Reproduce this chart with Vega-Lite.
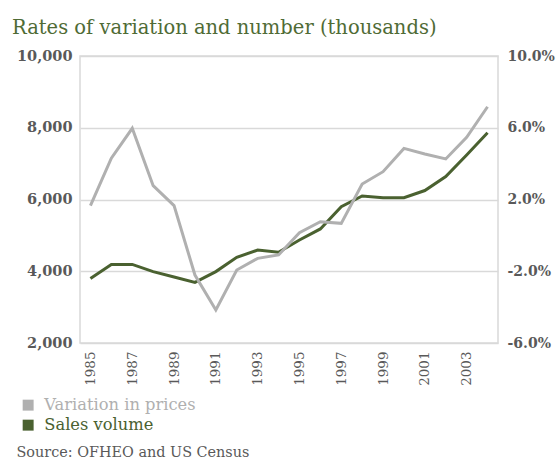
{
  "$schema": "https://vega.github.io/schema/vega-lite/v6.json",
  "width": 418,
  "height": 287,
  "autosize": "none",
  "padding": {"left": 80, "top": 56, "right": 60, "bottom": 115},
  "background": "white",
  "config": {
    "view": {"stroke": "#d9d9d9", "strokeWidth": 1.5},
    "font": "DejaVu Serif"
  },
  "title": {
    "text": "Rates of variation and number (thousands)",
    "anchor": "start",
    "frame": "group",
    "dx": -68,
    "offset": 10,
    "font": "DejaVu Serif",
    "fontSize": 19.5,
    "fontWeight": "normal",
    "color": "#4f6b35"
  },
  "data": {
    "values": [
      {"year": "1985", "series": "Sales volume", "value": 3800},
      {"year": "1986", "series": "Sales volume", "value": 4190},
      {"year": "1987", "series": "Sales volume", "value": 4190},
      {"year": "1988", "series": "Sales volume", "value": 3990},
      {"year": "1989", "series": "Sales volume", "value": 3840},
      {"year": "1990", "series": "Sales volume", "value": 3690},
      {"year": "1991", "series": "Sales volume", "value": 3990},
      {"year": "1992", "series": "Sales volume", "value": 4390},
      {"year": "1993", "series": "Sales volume", "value": 4590},
      {"year": "1994", "series": "Sales volume", "value": 4530},
      {"year": "1995", "series": "Sales volume", "value": 4870},
      {"year": "1996", "series": "Sales volume", "value": 5180},
      {"year": "1997", "series": "Sales volume", "value": 5800},
      {"year": "1998", "series": "Sales volume", "value": 6100},
      {"year": "1999", "series": "Sales volume", "value": 6050},
      {"year": "2000", "series": "Sales volume", "value": 6050},
      {"year": "2001", "series": "Sales volume", "value": 6250},
      {"year": "2002", "series": "Sales volume", "value": 6640},
      {"year": "2003", "series": "Sales volume", "value": 7240},
      {"year": "2004", "series": "Sales volume", "value": 7860},
      {"year": "1985", "series": "Variation in prices", "value": 1.66},
      {"year": "1986", "series": "Variation in prices", "value": 4.3},
      {"year": "1987", "series": "Variation in prices", "value": 5.97},
      {"year": "1988", "series": "Variation in prices", "value": 2.77},
      {"year": "1989", "series": "Variation in prices", "value": 1.66},
      {"year": "1990", "series": "Variation in prices", "value": -2.21},
      {"year": "1991", "series": "Variation in prices", "value": -4.16},
      {"year": "1992", "series": "Variation in prices", "value": -1.93},
      {"year": "1993", "series": "Variation in prices", "value": -1.28},
      {"year": "1994", "series": "Variation in prices", "value": -1.09},
      {"year": "1995", "series": "Variation in prices", "value": 0.15},
      {"year": "1996", "series": "Variation in prices", "value": 0.76},
      {"year": "1997", "series": "Variation in prices", "value": 0.67},
      {"year": "1998", "series": "Variation in prices", "value": 2.86},
      {"year": "1999", "series": "Variation in prices", "value": 3.55},
      {"year": "2000", "series": "Variation in prices", "value": 4.85},
      {"year": "2001", "series": "Variation in prices", "value": 4.54},
      {"year": "2002", "series": "Variation in prices", "value": 4.26},
      {"year": "2003", "series": "Variation in prices", "value": 5.47},
      {"year": "2004", "series": "Variation in prices", "value": 7.17}
    ]
  },
  "encoding": {
    "x": {
      "field": "year",
      "type": "ordinal",
      "scale": {"type": "point", "padding": 0.5},
      "axis": {
        "values": ["1985", "1987", "1989", "1991", "1993", "1995", "1997", "1999", "2001", "2003"],
        "labelAngle": -90,
        "labelFont": "DejaVu Serif",
        "labelFontSize": 13.5,
        "labelColor": "#595959",
        "labelPadding": 8,
        "ticks": false,
        "domain": false,
        "grid": false,
        "title": "Source: OFHEO and US Census",
        "titleAnchor": "start",
        "titleAlign": "left",
        "titleX": -64,
        "titleY": 113,
        "titleBaseline": "alphabetic",
        "titleFont": "DejaVu Serif",
        "titleFontSize": 14.4,
        "titleFontWeight": "normal",
        "titleColor": "#595959"
      }
    },
    "color": {
      "field": "series",
      "type": "nominal",
      "scale": {"domain": ["Variation in prices", "Sales volume"], "range": ["#b0b0b0", "#4a6130"]},
      "legend": {
        "orient": "none",
        "legendX": -60,
        "legendY": 341,
        "title": null,
        "symbolType": "square",
        "symbolSize": 120,
        "symbolStrokeWidth": 0,
        "symbolOpacity": 1,
        "labelFont": "DejaVu Serif",
        "labelFontSize": 16.3,
        "rowPadding": 3,
        "labelOffset": 8,
        "encode": {
          "labels": {"update": {"fill": {"signal": "datum.value === 'Sales volume' ? '#4a6130' : '#b0b0b0'"}}},
          "symbols": {"update": {"fill": {"signal": "datum.value === 'Sales volume' ? '#4a6130' : '#b0b0b0'"}}}
        }
      }
    }
  },
  "layer": [
    {
      "transform": [{"filter": "datum.series === 'Sales volume'"}],
      "mark": {"type": "line", "strokeWidth": 3},
      "encoding": {
        "y": {
          "field": "value",
          "type": "quantitative",
          "scale": {"domain": [2000, 10000], "nice": false, "zero": false},
          "axis": {
            "orient": "left",
            "values": [2000, 4000, 6000, 8000, 10000],
            "format": ",.0f",
            "title": null,
            "labelFont": "DejaVu Serif",
            "labelFontSize": 14.5,
            "labelFontWeight": "bold",
            "labelColor": "#595959",
            "labelPadding": 8,
            "ticks": false,
            "domain": false,
            "grid": true,
            "gridColor": "#d9d9d9",
            "gridWidth": 1.5
          }
        }
      }
    },
    {
      "transform": [{"filter": "datum.series === 'Variation in prices'"}],
      "mark": {"type": "line", "strokeWidth": 3},
      "encoding": {
        "y": {
          "field": "value",
          "type": "quantitative",
          "scale": {"domain": [-6, 10], "nice": false, "zero": false},
          "axis": {
            "orient": "right",
            "values": [-6, -2, 2, 6, 10],
            "labelExpr": "replace(format(datum.value, '.1f'), '\u2212', '-') + '%'",
            "title": null,
            "labelFont": "DejaVu Serif",
            "labelFontSize": 14,
            "labelFontWeight": "bold",
            "labelColor": "#595959",
            "labelPadding": 9,
            "ticks": false,
            "domain": false,
            "grid": false
          }
        }
      }
    }
  ],
  "resolve": {"scale": {"y": "independent"}}
}
